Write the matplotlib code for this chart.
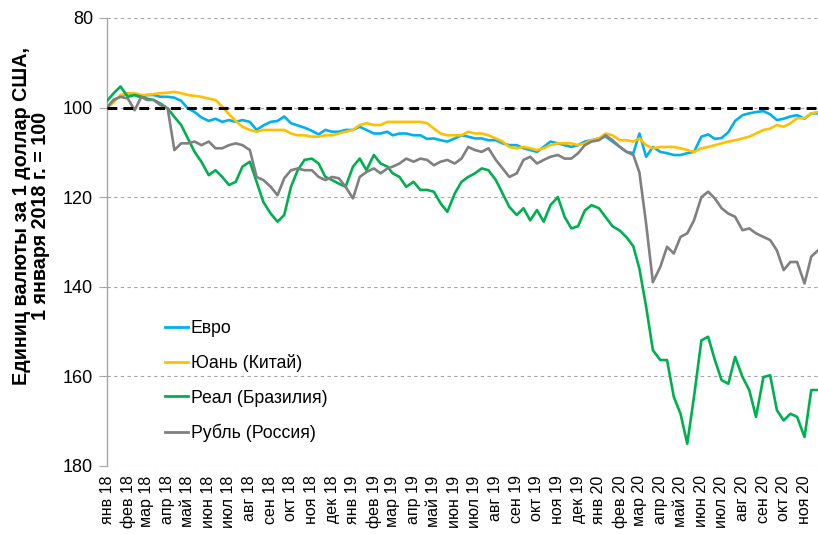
import matplotlib
matplotlib.use("Agg")
import matplotlib.pyplot as plt
import pandas as pd

plt.rcParams['font.family'] = ['Liberation Sans', 'DejaVu Sans']

# ---------------- data ----------------
month_names = ["янв", "фев", "мар", "апр", "май", "июн",
               "июл", "авг", "сен", "окт", "ноя", "дек"]
years = [2018, 2019, 2020]
sample_days = [1, 11, 21]
last_month = (2020, 11)

series_labels = ["Евро", "Юань (Китай)", "Реал (Бразилия)", "Рубль (Россия)"]
series_colors = ["#00B0F0", "#FFC000", "#00B050", "#808080"]

euro = [
    100.0, 98.3, 97.6,   96.8, 97.2, 97.8,   97.2, 97.2, 97.6,   97.6, 97.8, 98.5,
    100.2, 101.0, 102.2, 103.0, 102.5, 103.2, 102.8, 103.2, 102.8, 103.2, 105.0, 104.0,
    103.2, 103.0, 102.0, 103.5, 104.0, 104.5, 105.2, 106.0, 105.0, 105.4, 105.4, 105.0,
    105.0, 104.3, 105.0, 105.8, 105.8, 105.4, 106.2, 105.8, 105.8, 106.2, 106.2, 107.0,
    106.9, 107.3, 107.6, 106.9, 106.2, 106.5, 106.9, 106.9, 107.3, 107.3, 108.0, 108.4,
    108.4, 109.1, 109.5, 109.9, 108.8, 107.6, 108.0, 108.4, 108.8, 108.4, 107.6, 107.3,
    106.9, 106.5, 107.6, 108.8, 109.9, 110.2, 105.8, 111.0, 108.8, 109.9, 110.2, 110.6,
    110.6, 110.2, 109.9, 106.5, 106.0, 107.0, 106.8, 105.5, 103.0, 101.7, 101.3, 101.0,
    100.8, 101.5, 102.8, 102.5, 102.0, 101.7, 102.5, 101.3, 101.3,
]

yuan = [
    100.0, 98.8, 97.2,   96.8, 96.8, 97.2,   97.2, 97.0, 96.8,   96.7, 96.5, 96.8,
    97.2, 97.4, 97.6,    98.0, 98.3, 99.8,   101.5, 103.0, 104.3, 105.0, 105.4, 105.0,
    105.0, 105.0, 105.0, 105.8, 106.2, 106.2, 106.5, 106.5, 106.2, 106.2, 105.8, 105.4,
    105.0, 103.9, 103.5, 103.9, 103.9, 103.2, 103.2, 103.2, 103.2, 103.2, 103.2, 103.5,
    104.7, 105.8, 106.2, 106.2, 106.2, 105.4, 105.8, 105.8, 106.2, 106.9, 107.6, 108.8,
    109.1, 108.8, 109.1, 109.5, 109.1, 108.4, 108.0, 108.0, 108.0, 108.4, 108.0, 107.3,
    106.9, 105.8, 106.2, 107.3, 107.3, 107.6, 106.9, 108.4, 109.1, 108.8, 108.8, 108.8,
    109.1, 109.5, 109.9, 109.1, 108.8, 108.4, 108.0, 107.6, 107.3, 106.9, 106.5, 105.8,
    105.0, 104.7, 103.9, 104.3, 103.5, 102.4, 102.4, 101.3, 101.0,
]

real = [
    98.5, 96.8, 95.3,    97.6, 97.2, 97.6,   98.0, 98.3, 99.1,   100.2, 102.1, 103.9,
    106.9, 109.9, 112.1, 115.1, 114.0, 115.5, 117.3, 116.6, 113.2, 112.1, 116.6, 121.1,
    123.7, 125.5, 124.0, 117.7, 114.0, 111.7, 111.4, 112.5, 115.5, 116.2, 117.0, 117.7,
    113.2, 111.4, 114.0, 110.6, 112.5, 113.2, 114.7, 115.5, 117.7, 116.6, 118.4, 118.4,
    118.8, 121.4, 123.3, 119.2, 116.6, 115.5, 114.7, 113.6, 114.0, 116.2, 119.2, 122.2,
    124.0, 122.5, 125.2, 122.9, 125.5, 121.8, 120.0, 124.4, 127.0, 126.5, 123.0, 121.8,
    122.5, 124.5, 126.5, 127.5, 129.0, 131.0, 136.0, 144.5, 154.2, 156.4, 156.4, 164.6,
    168.4, 175.1, 164.6, 152.0, 151.2, 156.4, 160.9, 161.7, 155.7, 160.2, 163.1, 169.1,
    160.2, 159.8, 167.6, 169.9, 168.4, 169.1, 173.6, 163.1, 163.1,
]

ruble = [
    100.0, 98.3, 97.6,   98.0, 100.6, 97.6,  98.3, 98.3, 99.4,   100.2, 109.5, 108.0,
    108.0, 107.6, 108.4, 107.6, 109.1, 109.1, 108.4, 108.0, 108.4, 109.5, 115.5, 116.2,
    117.7, 119.6, 115.8, 114.0, 113.6, 114.0, 114.0, 115.5, 116.2, 115.5, 115.8, 117.7,
    120.3, 115.5, 114.4, 113.6, 114.7, 113.6, 113.2, 112.5, 111.4, 112.1, 111.4, 111.7,
    112.9, 112.1, 111.7, 112.5, 111.4, 108.8, 109.5, 109.9, 109.1, 111.7, 113.6, 115.5,
    114.7, 111.7, 111.0, 112.5, 111.7, 111.0, 110.6, 111.4, 111.4, 110.2, 108.4, 107.6,
    107.3, 106.2, 107.3, 108.8, 109.9, 110.6, 114.5, 126.0, 139.0, 135.6, 131.1, 132.6,
    128.9, 128.1, 125.2, 120.0, 118.8, 120.3, 122.5, 123.7, 124.4, 127.4, 127.0, 128.1,
    128.9, 129.6, 131.9, 136.3, 134.5, 134.5, 139.3, 133.3, 131.9,
]

y_ticks = [80, 100, 120, 140, 160, 180]
baseline = 100
y_label = "Единиц валюты за 1 доллар США,\n1 января 2018 г. = 100"

# ---------------- derived positions ----------------
dates = [pd.Timestamp(y, m, d) for y in years for m in range(1, 13)
         for d in sample_days if (y, m) <= last_month]
month_starts = [pd.Timestamp(y, m, 1) for y in years for m in range(1, 13)
                if (y, m) <= last_month]
month_labels = [f"{month_names[t.month - 1]} {t.year % 100:02d}" for t in month_starts]

# ---------------- figure ----------------
W, H = 818, 534
fig = plt.figure(figsize=(W / 100, H / 100), dpi=100)
left, right, top, bottom = 107, 818, 18, 465.7
ax = fig.add_axes([left / W, 1 - bottom / H, (right - left) / W, (bottom - top) / H])

for vals, lab, col in zip([euro, yuan, real, ruble], series_labels, series_colors):
    ax.plot(dates, vals, color=col, lw=1.9, label=lab, zorder=3)

ax.axhline(baseline, color="black", lw=2.2, ls=(0, (3.2, 2.0)), zorder=5)

ax.set_ylim(180, 80)
ax.set_yticks(y_ticks)
ax.set_xlim(pd.Timestamp(2018, 1, 1), pd.Timestamp(2020, 11, 21))
ax.set_xticks(month_starts)
ax.set_xticklabels(month_labels, rotation=90, fontsize=11.5)

ax.yaxis.grid(True, color="#A6A6A6", ls=(0, (3, 3)), lw=0.8)
ax.set_axisbelow(True)
ax.tick_params(axis="x", length=0, pad=7, colors="black")
ax.tick_params(axis="y", length=6, color="#A6A6A6", labelsize=13, pad=4)
for s in ["top", "right", "bottom"]:
    ax.spines[s].set_visible(False)
ax.spines["left"].set_color("#A6A6A6")
ax.spines["left"].set_linewidth(1.0)

leg = ax.legend(loc="upper left", bbox_to_anchor=(165 / W, 1 - 320 / H),
                bbox_transform=fig.transFigure, frameon=False, fontsize=12.7,
                handlelength=1.3, handletextpad=0.15, labelspacing=0.98,
                borderpad=0, borderaxespad=0)
for h in leg.get_lines():
    h.set_linewidth(2.0)

fig.text(31 / W, 1 - 216 / H, y_label, rotation=90, ha="center", va="center",
         fontsize=14.2, fontweight="bold", multialignment="center",
         linespacing=1.05)

fig.savefig("out.png", dpi=100)
